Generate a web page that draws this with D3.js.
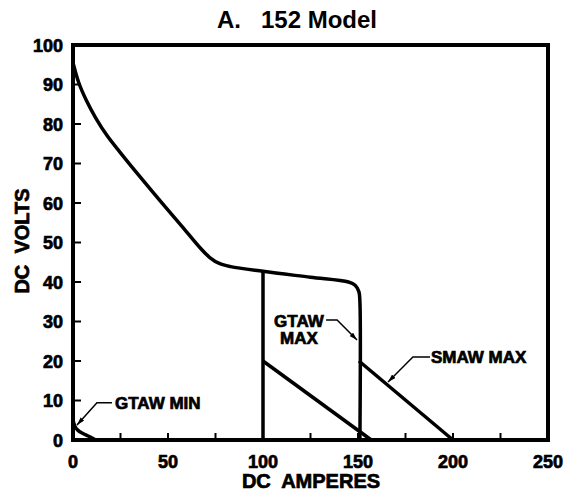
<!DOCTYPE html>
<html lang="en">
<head>
<meta charset="UTF-8">
<title>152 Model</title>
<script src="https://d3js.org/d3.v7.min.js"></script>
<style>
body { margin: 0; background: white; }
svg { display: block; }
text { font-family: "Liberation Sans", Arial, sans-serif; font-weight: bold; fill: black; }
.lbl { stroke: black; stroke-width: 0.7; }
</style>
</head>
<body>
<svg></svg>
<script>
// volt-amp curves, [amps, volts]
const mainCurve = [[0,95.5],[3,90.5],[7,86],[12,81.5],[18,77],[25,72.7],[35,66.8],[46,60.5],[57,54.3],[67,48.6],[72,46.2],[77,44.7],[83,43.9],[100,42.7],[125,41.2],[145,40],[148.5,39.2],[150.5,37.5],[151,35],[151,0]];
const gtaw100 = [[100,42.7],[100,0]];
const gtaw100Slope = [[100,20],[157,0]];
const smawMax = [[150.5,20],[200,0]];
const gtawMin = [[0,5],[1,3.5],[2.5,2.5],[5,1.7],[8,1],[12,0]];

const xLabels = [0,50,100,150,200,250];
const xTicks = [25,50,75,100,125,150,175,200,225];
const yLabels = [0,10,20,30,40,50,60,70,80,90,100];
const yTicks = [10,20,30,40,50,60,70,80,90];

// annotations: leader points [amps, volts], last point is the arrow tip
const notes = [
  {lines: ["GTAW MIN"], at: [22.1, 7.8], anchor: "start", leader: [[20.5,9.4],[12.6,9.4],[2.1,3.8]]},
  {lines: ["GTAW", "MAX"], at: [118.9, 28.6], anchor: "middle", leader: [[133.2,30.4],[139,30.4],[149.5,25.3]]},
  {lines: ["SMAW MAX"], at: [188.4, 19.5], anchor: "start", leader: [[187.9,21],[178.9,21],[165.8,14.7]]}
];

const width = 567, height = 491;
const svg = d3.select("svg").attr("width", width).attr("height", height);

const x = d3.scaleLinear().domain([0,250]).range([73,548]);
const y = d3.scaleLinear().domain([0,100]).range([440,45]);

svg.append("defs").append("marker")
  .attr("id","arrow")
  .attr("viewBox","0 0 10 6")
  .attr("refX",10).attr("refY",3)
  .attr("markerWidth",8).attr("markerHeight",5)
  .attr("markerUnits","userSpaceOnUse")
  .attr("orient","auto")
  .append("path").attr("d","M0,0L10,3L0,6Z").attr("fill","black");

// title
svg.append("text")
  .attr("x",297).attr("y",28)
  .attr("text-anchor","middle")
  .style("font-size","24px")
  .style("white-space","pre")
  .text("A.   152 Model");

// ticks (inward)
svg.append("g").selectAll("line").data(xTicks).enter().append("line")
  .attr("x1", d => x(d)).attr("x2", d => x(d))
  .attr("y1", y(0)).attr("y2", y(0) - 7)
  .attr("stroke","black").attr("stroke-width",2);
svg.append("g").selectAll("line").data(yTicks).enter().append("line")
  .attr("x1", x(0)).attr("x2", x(0) + 8)
  .attr("y1", d => y(d)).attr("y2", d => y(d))
  .attr("stroke","black").attr("stroke-width",2);

// tick labels
svg.append("g").selectAll("text").data(xLabels).enter().append("text")
  .attr("class","lbl")
  .attr("x", d => x(d)).attr("y", 468)
  .attr("text-anchor","middle")
  .style("font-size","18px")
  .text(d => d);
svg.append("g").selectAll("text").data(yLabels).enter().append("text")
  .attr("class","lbl")
  .attr("x", 63).attr("y", d => y(d) + 6.5)
  .attr("text-anchor","end")
  .style("font-size","18px")
  .text(d => d);

// axis titles
svg.append("text")
  .attr("class","lbl")
  .attr("x",311).attr("y",488)
  .attr("text-anchor","middle")
  .style("font-size","20px")
  .style("white-space","pre")
  .text("DC  AMPERES");
svg.append("text")
  .attr("class","lbl")
  .attr("transform","translate(29,241) rotate(-90)")
  .attr("text-anchor","middle")
  .style("font-size","20px")
  .style("white-space","pre")
  .text("DC  VOLTS");

// curves
const line = d3.line().x(d => x(d[0])).y(d => y(d[1]));
const smooth = d3.line().x(d => x(d[0])).y(d => y(d[1])).curve(d3.curveCatmullRom.alpha(0.5));
const curves = svg.append("g").attr("fill","none").attr("stroke","black")
  .attr("stroke-width",3.5).attr("stroke-linejoin","round");
curves.append("path").attr("d", smooth(mainCurve));
curves.append("path").attr("d", line(gtaw100));
curves.append("path").attr("d", line(gtaw100Slope));
curves.append("path").attr("d", line(smawMax));
curves.append("path").attr("d", smooth(gtawMin));

// frame
svg.append("rect")
  .attr("x", x(0)).attr("y", y(100))
  .attr("width", x(250) - x(0)).attr("height", y(0) - y(100))
  .attr("fill","none").attr("stroke","black").attr("stroke-width",4);

// annotations
notes.forEach(n => {
  svg.append("path")
    .attr("d", line(n.leader))
    .attr("fill","none").attr("stroke","black").attr("stroke-width",1.5)
    .attr("marker-end","url(#arrow)");
  n.lines.forEach((s, i) => {
    svg.append("text")
      .attr("class","lbl")
      .attr("x", x(n.at[0])).attr("y", y(n.at[1]) + i * 17)
      .attr("text-anchor", n.anchor)
      .style("font-size","17px")
      .text(s);
  });
});
</script>
</body>
</html>
